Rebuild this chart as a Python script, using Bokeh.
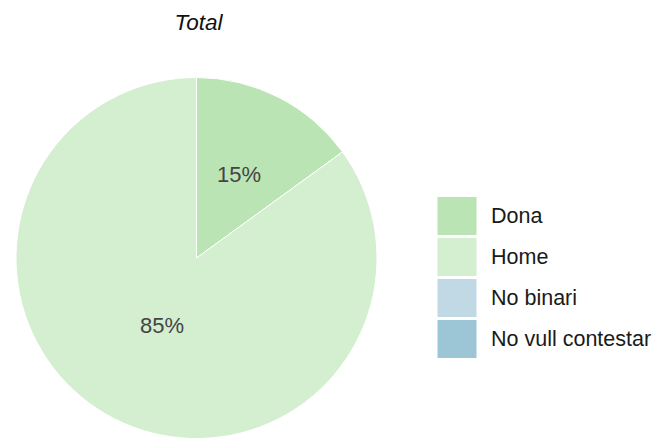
import math
from bokeh.plotting import figure
from bokeh.models import ColumnDataSource, Range1d
from bokeh.core.properties import value
from bokeh.embed import file_html
from bokeh.resources import INLINE

# ---- data ----
title_text = "Total"
categories = ["Dona", "Home", "No binari", "No vull contestar"]
values = [15, 85, 0, 0]
colors = ["#bbe4b4", "#d4eed0", "#c1d9e5", "#9cc6d6"]

W, H = 655, 441
FONT = "Liberation Sans"

p = figure(width=W, height=H, output_backend="svg", toolbar_location=None,
           x_range=Range1d(0, W), y_range=Range1d(0, H), min_border=0,
           outline_line_color=None)
p.axis.visible = False
p.grid.visible = False
p.background_fill_color = "white"
p.border_fill_color = "white"

def Y(py):
    return H - py

# pie geometry (pixel-like data units)
cx, cy, r = 196, Y(257.5), 180.5
total = sum(values)
starts, ends, fills, mids = [], [], [], []
cum = 0.0
for v, c in zip(values, colors):
    f0 = cum / total
    cum += v
    f1 = cum / total
    if v > 0:
        starts.append(math.pi / 2 - 2 * math.pi * f1)
        ends.append(math.pi / 2 - 2 * math.pi * f0)
        fills.append(c)
        mids.append((f0 + f1) / 2)

src = ColumnDataSource(dict(start=starts, end=ends, color=fills))
p.wedge(x=cx, y=cy, radius=r, start_angle="start", end_angle="end",
        fill_color="color", line_color="white", line_width=1, source=src)

# slice labels
label_frac = [0.52, 0.42]
lx, ly, lt = [], [], []
shown = [v for v in values if v > 0]
for i, (m, v) in enumerate(zip(mids, shown)):
    a = 2 * math.pi * m
    d = r * label_frac[i % len(label_frac)]
    lx.append(cx + d * math.sin(a))
    ly.append(cy + d * math.cos(a))
    lt.append(f"{round(100 * v / total)}%")
p.text(x=lx, y=ly, text=lt, text_font=value(FONT), text_font_size="22px",
       text_color="#444444", text_align="center", text_baseline="middle")

# title
p.text(x=[198], y=[Y(22)], text=[title_text], text_font=value(FONT),
       text_font_size="22.5px", text_font_style="italic", text_color="#111111",
       text_align="center", text_baseline="middle")

# legend
leg_x, leg_y0, pitch = 456.5, Y(215.5), 41
ys = [leg_y0 - i * pitch for i in range(len(categories))]
p.rect(x=[leg_x] * len(categories), y=ys, width=39, height=38,
       fill_color=colors, line_color=None)
p.text(x=[leg_x + 34] * len(categories), y=ys, text=categories,
       text_font=value(FONT), text_font_size="21.5px", text_color="#1a1a1a",
       text_align="left", text_baseline="middle")

open("out.html", "w").write(file_html(p, INLINE))
